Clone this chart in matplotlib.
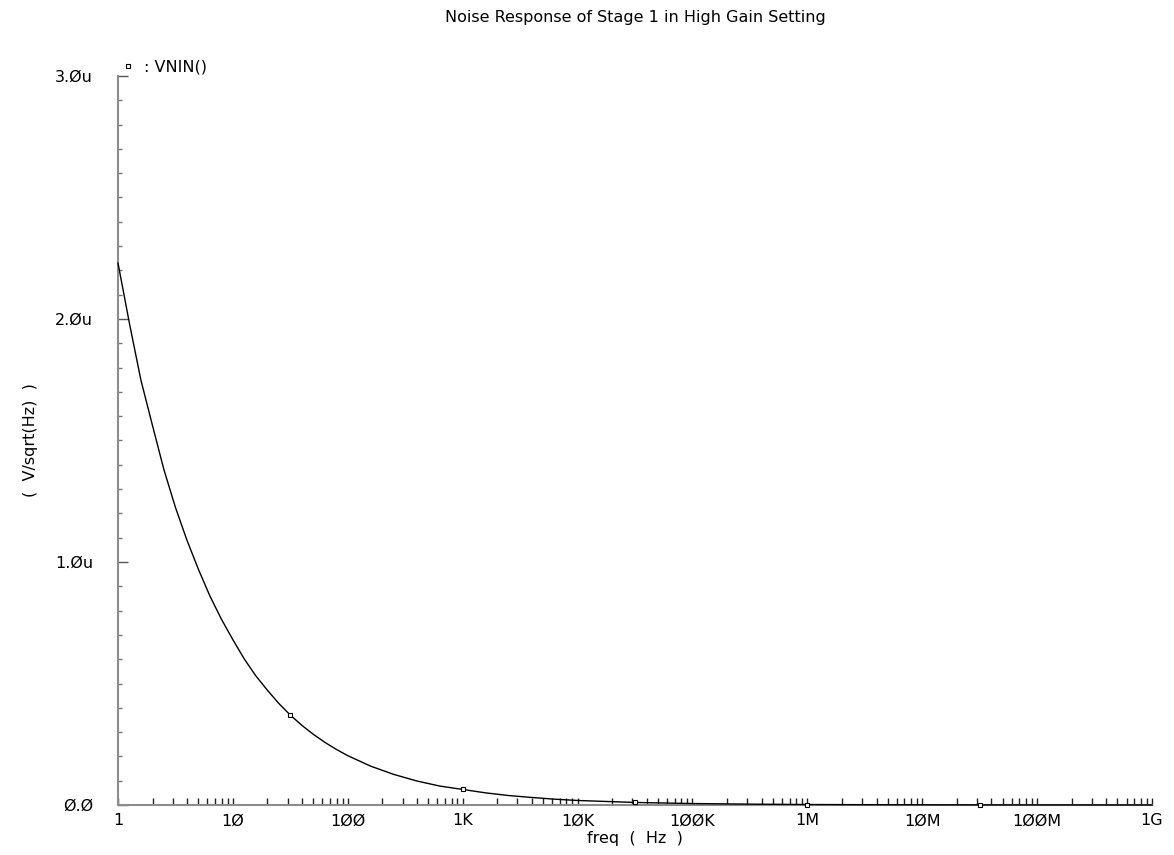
import matplotlib.pyplot as plt
from matplotlib.ticker import FixedLocator, FixedFormatter, LogLocator, NullFormatter, MultipleLocator

# input referred noise of stage 1, high gain setting
freq = [1, 1.26, 1.58, 2, 2.51, 3.16, 3.98, 5.01, 6.31, 7.94,
        10, 12.6, 15.8, 20, 25.1, 31.6, 39.8, 50.1, 63.1, 79.4,
        100, 158, 251, 398, 631, 1e3, 1.58e3, 2.51e3, 3.98e3, 6.31e3,
        1e4, 3.16e4, 1e5, 3.16e5, 1e6, 3.16e6, 1e7, 3.16e7, 1e8, 1e9]
vnin_uV = [2.23, 1.98, 1.75, 1.56, 1.38, 1.225, 1.09, 0.97, 0.86, 0.765,
           0.68, 0.60, 0.532, 0.472, 0.418, 0.37, 0.328, 0.291, 0.258, 0.229,
           0.203, 0.160, 0.126, 0.099, 0.078, 0.064, 0.050, 0.039, 0.031, 0.024,
           0.0186, 0.0105, 0.006, 0.0035, 0.002, 0.0012, 0.0008, 0.0005, 0.0003, 0.0001]
marker_idx = [15, 25, 31, 34, 37]

xticks = [1, 1e1, 1e2, 1e3, 1e4, 1e5, 1e6, 1e7, 1e8, 1e9]
xticklabels = ["1", "1Ø", "1ØØ", "1K", "1ØK", "1ØØK", "1M", "1ØM", "1ØØM", "1G"]
yticks = [0, 1, 2, 3]
yticklabels = ["Ø.Ø", "1.Øu", "2.Øu", "3.Øu"]

plt.rcParams['font.family'] = ['DejaVu Sans']
fig = plt.figure(figsize=(11.74, 8.55), dpi=100)
ax = fig.add_axes([118/1174, 1 - 805/855, (1152 - 118)/1174, (805 - 76)/855])

ax.plot(freq, vnin_uV, color='black', lw=1.0,
        marker='s', markersize=3.5, markerfacecolor='white',
        markeredgecolor='black', markeredgewidth=0.8,
        markevery=marker_idx, label=': VNIN()', zorder=5, clip_on=False)

ax.set_xscale('log')
ax.set_xlim(1, 1e9)
ax.set_ylim(0, 3)

ax.xaxis.set_major_locator(FixedLocator(xticks))
ax.xaxis.set_major_formatter(FixedFormatter(xticklabels))
ax.xaxis.set_minor_locator(LogLocator(base=10, subs=range(2, 10), numticks=20))
ax.xaxis.set_minor_formatter(NullFormatter())
ax.yaxis.set_major_locator(FixedLocator(yticks))
ax.yaxis.set_major_formatter(FixedFormatter(yticklabels))
ax.yaxis.set_minor_locator(MultipleLocator(0.1))

ax.tick_params(axis='x', which='both', direction='in', length=5, width=1,
               color='#222222', labelsize=11.5, pad=6)
ax.tick_params(axis='y', which='major', direction='in', length=7, width=1,
               color='#555555', labelsize=11.5, pad=18)
ax.tick_params(axis='y', which='minor', direction='in', length=3, width=1,
               color='#777777')

for side in ['top', 'right']:
    ax.spines[side].set_visible(False)
for side in ['left', 'bottom']:
    ax.spines[side].set_color('#8c8c8c')
    ax.spines[side].set_linewidth(1.5)

ax.set_xlabel('freq  (  Hz  )', fontsize=11.5, labelpad=2)
ax.set_ylabel('(  V/sqrt(Hz)  )', fontsize=11.5, labelpad=12)
ax.set_title('Noise Response of Stage 1 in High Gain Setting', fontsize=11.5, pad=39)

ax.legend(loc='lower left', bbox_to_anchor=(0.008, 1.0), frameon=False,
          handlelength=0, handletextpad=1.0, numpoints=1, fontsize=11.5,
          borderaxespad=0.0, borderpad=0.1, markerscale=1.0)

fig.savefig('out.png', dpi=100)
